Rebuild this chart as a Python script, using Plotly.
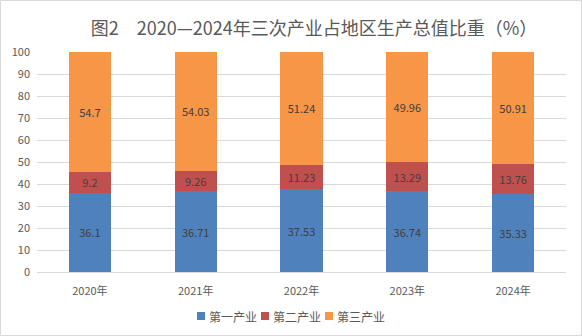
import plotly.graph_objects as go

years = ["2020年", "2021年", "2022年", "2023年", "2024年"]
primary = [36.1, 36.71, 37.53, 36.74, 35.33]
secondary = [9.2, 9.26, 11.23, 13.29, 13.76]
tertiary = [54.7, 54.03, 51.24, 49.96, 50.91]
names = ["第一产业", "第二产业", "第三产业"]
colors = ["#4f81bd", "#c0504d", "#f79646"]

FONT = "Noto Sans CJK SC"
fig = go.Figure()
for name, vals, c in zip(names, [primary, secondary, tertiary], colors):
    fig.add_trace(go.Bar(
        x=years, y=vals, name=name, marker=dict(color=c, line=dict(width=0)),
        text=[str(v) for v in vals], textposition="inside", insidetextanchor="middle",
        textangle=0, showlegend=False,
        textfont=dict(color="#404040", size=11, family=FONT), constraintext="none",
        width=0.4,
    ))

L, R, T, B = 37, 16, 52, 64
W, H = 582, 336
pw, ph = W - L - R, H - T - B


def px_x(x):
    return (x - L) / pw


def px_y(y):
    return (H - B - y) / ph


# custom legend (tight spacing like the original)
shapes = [dict(type="rect", xref="paper", yref="paper",
               x0=px_x(0.5), x1=px_x(581.5), y0=px_y(335.5), y1=px_y(0.5),
               line=dict(color="#d9d9d9", width=1), fillcolor="rgba(0,0,0,0)")]
annotations = []
leg_x0, leg_step, leg_y = 197, 64, 316
for i, (name, c) in enumerate(zip(names, colors)):
    sx = leg_x0 + i * leg_step
    shapes.append(dict(type="rect", xref="paper", yref="paper",
                       x0=px_x(sx), x1=px_x(sx + 8), y0=px_y(leg_y + 4), y1=px_y(leg_y - 4),
                       line=dict(width=0), fillcolor=c))
    annotations.append(dict(text=name, xref="paper", yref="paper",
                            x=px_x(sx + 10), y=px_y(leg_y), xanchor="left", yanchor="middle",
                            showarrow=False, font=dict(size=12, color="#595959", family=FONT)))

fig.update_layout(
    width=W, height=H, barmode="stack",
    margin=dict(l=L, r=R, t=T, b=B, autoexpand=False),
    paper_bgcolor="white", plot_bgcolor="white",
    font=dict(family=FONT, color="#595959", size=11),
    title=dict(text="图2　2020—2024年三次产业占地区生产总值比重（%）",
               x=314 / W, xanchor="center", y=1 - 29 / H, yanchor="middle",
               font=dict(size=18, color="#595959", family=FONT)),
    xaxis=dict(showgrid=False, showline=True, linecolor="#d9d9d9", ticks="",
               ticklabelstandoff=9,
               tickfont=dict(size=11, color="#595959")),
    yaxis=dict(range=[0, 100], dtick=10, showgrid=True, gridcolor="#d9d9d9",
               zeroline=False, showline=False, ticks="", ticklabelstandoff=6,
               tickfont=dict(size=11, color="#595959")),
    showlegend=False,
    shapes=shapes, annotations=annotations,
)
fig.write_html("out.html")
